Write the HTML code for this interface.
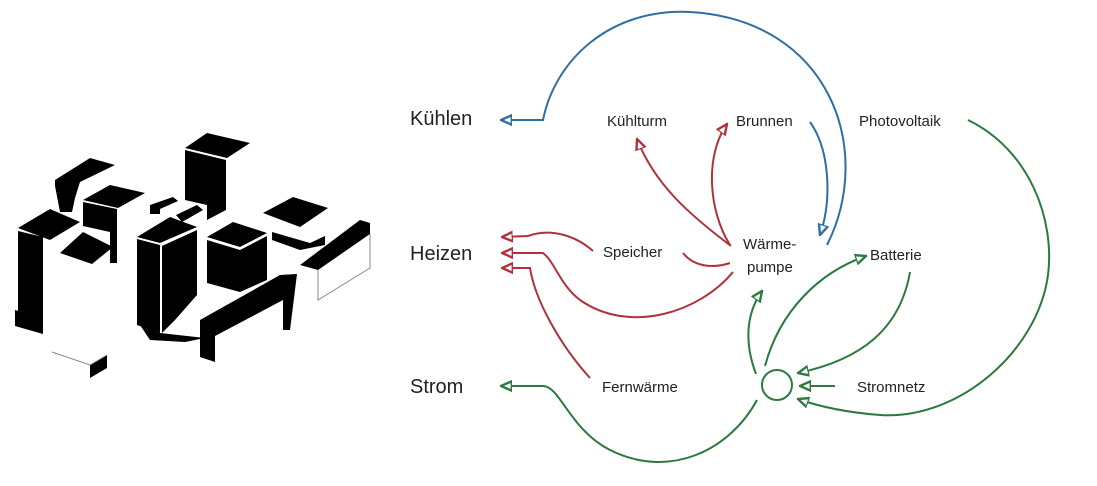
<!DOCTYPE html>
<html><head><meta charset="utf-8"><style>
html,body{margin:0;padding:0;background:#fff;}
svg{display:block;}
text{font-family:"Liberation Sans",sans-serif;fill:#222;}
</style></head><body>
<svg width="1097" height="486" viewBox="0 0 1097 486" xmlns="http://www.w3.org/2000/svg">
<defs>
<marker id="ab" viewBox="0 0 10 10" refX="9" refY="5" markerWidth="6" markerHeight="6" orient="auto-start-reverse"><path d="M0,1 L9,5 L0,9 Z" fill="#fff" stroke="#2e6fa3" stroke-width="2"/></marker>
<marker id="ar" viewBox="0 0 10 10" refX="9" refY="5" markerWidth="6" markerHeight="6" orient="auto-start-reverse"><path d="M0,1 L9,5 L0,9 Z" fill="#fff" stroke="#b0323a" stroke-width="2"/></marker>
<marker id="ag" viewBox="0 0 10 10" refX="9" refY="5" markerWidth="6" markerHeight="6" orient="auto-start-reverse"><path d="M0,1 L9,5 L0,9 Z" fill="#fff" stroke="#2b7a3e" stroke-width="2"/></marker>
</defs>

<!-- building -->
<g fill="#000">
<polygon points="18,228 50,209 80,222 50,240"/>
<polygon points="18,231 43,237 43,320 18,313"/>
<polygon points="15,310 43,318 43,334 15,326"/>
<polygon points="55,180 90,158 115,165 80,182 75,198 72,212 60,212 55,186"/>
<polygon points="83,200 110,185 145,193 118,208"/>
<polygon points="83,202 117,209 117,263 110,263 110,232 83,226"/>
<polygon points="60,253 83,232 113,247 92,264"/>
<polygon points="185,148 207,133 250,143 227,158"/>
<polygon points="185,150 226,160 226,210 207,220 207,205 185,200"/>
<polygon points="150,205 173,197 178,201 160,209 160,214 150,214"/>
<polygon points="176,215 197,205 203,210 182,222"/>
<polygon points="137,237 170,217 197,227 160,243"/>
<polygon points="137,239 160,245 160,333 137,325"/>
<polygon points="162,246 197,230 197,295 175,320 162,333"/>
<polygon points="140,325 160,333 205,338 185,342 150,340"/>
<polygon points="207,237 233,222 267,233 240,247"/>
<polygon points="207,240 240,250 267,236 267,280 240,292 207,283"/>
<polygon points="200,320 280,275 297,274 290,330 283,330 283,300 215,336 215,362 200,357"/>
<polygon points="263,213 293,197 328,208 300,227"/>
<polygon points="272,232 310,243 325,236 325,245 300,250 272,240"/>
<polygon points="300,265 360,220 370,223 370,234 318,270"/>
<polygon points="90,365 107,355 107,368 90,378"/>
</g>
<g fill="none" stroke="#888" stroke-width="1">
<polyline points="318,270 318,300 370,268 370,234"/>
<polyline points="52,352 90,365 107,355"/>
</g>

<!-- labels -->
<text x="410" y="125" font-size="20">Kühlen</text>
<text x="410" y="260" font-size="20">Heizen</text>
<text x="410" y="393" font-size="20">Strom</text>
<g font-size="15">
<text x="607" y="126">Kühlturm</text>
<text x="736" y="126">Brunnen</text>
<text x="859" y="126">Photovoltaik</text>
<text x="603" y="257">Speicher</text>
<text x="743" y="249">Wärme-</text>
<text x="747" y="272">pumpe</text>
<text x="870" y="260">Batterie</text>
<text x="602" y="392">Fernwärme</text>
<text x="857" y="392">Stromnetz</text>
</g>

<!-- blue -->
<g fill="none" stroke="#2e6fa3" stroke-width="2">
<path d="M827,245 C875,150 830,20 690,12 C610,8 555,60 543,120 L501,120" marker-end="url(#ab)"/>
<path d="M810,122 C830,150 832,200 820,235" marker-end="url(#ab)"/>
</g>

<!-- red -->
<g fill="none" stroke="#b0323a" stroke-width="2">
<path d="M731,246 C690,215 655,185 637,139" marker-end="url(#ar)"/>
<path d="M730,245 C708,210 705,155 727,124" marker-end="url(#ar)"/>
<path d="M593,251 C575,235 550,228 528,236 L502,237" marker-end="url(#ar)"/>
<path d="M683,253 C695,268 715,268 730,263"/>
<path d="M733,272 C700,312 630,335 580,300 C560,285 555,262 543,253 L502,253" marker-end="url(#ar)"/>
<path d="M590,378 C560,345 535,300 530,268 L502,268" marker-end="url(#ar)"/>
</g>

<!-- green -->
<g fill="none" stroke="#2b7a3e" stroke-width="2">
<circle cx="777" cy="385" r="15"/>
<path d="M757,400 C730,450 670,480 610,450 C570,430 560,386 543,386 L501,386" marker-end="url(#ag)"/>
<path d="M756,374 C745,345 745,315 762,291" marker-end="url(#ag)"/>
<path d="M765,366 C780,310 820,272 866,256" marker-end="url(#ag)"/>
<path d="M910,272 C900,330 860,360 798,373" marker-end="url(#ag)"/>
<path d="M835,386 L800,386" marker-end="url(#ag)"/>
<path d="M968,120 C1030,150 1055,220 1048,275 C1038,350 960,420 880,415 C840,412 815,405 798,399" marker-end="url(#ag)"/>
</g>
</svg>
</body></html>
